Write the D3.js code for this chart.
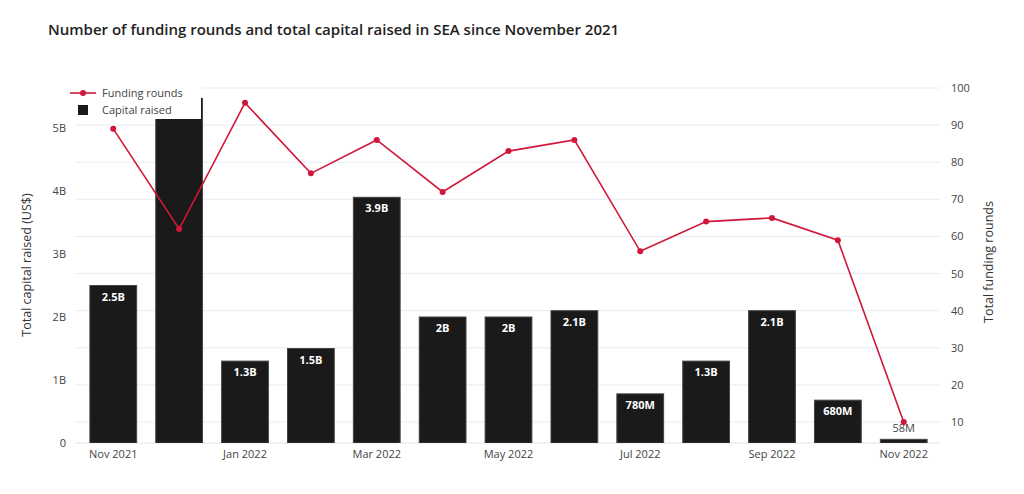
<!DOCTYPE html><html><head><meta charset="utf-8">
<script src="https://cdn.jsdelivr.net/npm/d3@7"></script>
<style>body{margin:0;background:#fff;font-family:"Open Sans",sans-serif}</style></head><body>
<svg id="c" width="1024" height="494"></svg>
<script>
const months=["Nov 2021","Dec 2021","Jan 2022","Feb 2022","Mar 2022","Apr 2022","May 2022","Jun 2022","Jul 2022","Aug 2022","Sep 2022","Oct 2022","Nov 2022"];
const capital=[2.5e9,6.5e9,1.3e9,1.5e9,3.9e9,2.0e9,2.0e9,2.1e9,7.8e8,1.3e9,2.1e9,6.8e8,5.8e7];
const capLabels=["2.5B","","1.3B","1.5B","3.9B","2B","2B","2.1B","780M","1.3B","2.1B","680M","58M"];
const rounds=[89,62,96,77,86,72,83,86,56,64,65,59,10];
const tickLabels=["Nov 2021","","Jan 2022","","Mar 2022","","May 2022","","Jul 2022","","Sep 2022","","Nov 2022"];
const svg=d3.select("#c");
const L=75,R=940,T=88,B=443;
const x=d3.scaleBand().domain(months).range([80,937]).paddingInner(0.29).paddingOuter(0.15);
const yL=d3.scaleLinear().domain([0,5.635e9]).range([B,T]);
const yR=d3.scaleLinear().domain([4.34,100]).range([B,T]);
svg.append("text").attr("x",48).attr("y",35).attr("font-size",15).attr("font-weight",600).attr("fill","#222").text("Number of funding rounds and total capital raised in SEA since November 2021");
// grid
svg.append("g").selectAll("line").data(d3.range(10,101,10)).join("line").attr("x1",L).attr("x2",R).attr("y1",d=>yR(d)).attr("y2",d=>yR(d)).attr("stroke","#e6ecf5");
svg.append("line").attr("x1",L).attr("x2",R).attr("y1",B).attr("y2",B).attr("stroke","#dde4ee");
svg.append("defs").append("clipPath").attr("id","cp").append("rect").attr("x",L).attr("y",98).attr("width",R-L).attr("height",B-98);
const g=svg.append("g").attr("clip-path","url(#cp)");
g.selectAll("rect").data(capital).join("rect").attr("x",(d,i)=>x(months[i])).attr("width",x.bandwidth()).attr("y",d=>yL(d)).attr("height",d=>B-yL(d)).attr("fill","#1a1a1a").attr("stroke","#444").attr("stroke-width",1);
svg.append("g").selectAll("text").data(capital).join("text").attr("x",(d,i)=>x(months[i])+x.bandwidth()/2)
 .attr("y",(d,i)=>i===12?yL(d)-7:yL(d)+15).attr("text-anchor","middle").attr("font-size",11).attr("font-weight",(d,i)=>i===12?400:700)
 .attr("fill",(d,i)=>i===12?"#444":"#fff").text((d,i)=>capLabels[i]);
// line
const cx=i=>x(months[i])+x.bandwidth()/2;
svg.append("path").datum(rounds).attr("d",d3.line().x((d,i)=>cx(i)).y(d=>yR(d))).attr("fill","none").attr("stroke","#d0173a").attr("stroke-width",1.6);
svg.append("g").selectAll("circle").data(rounds).join("circle").attr("cx",(d,i)=>cx(i)).attr("cy",d=>yR(d)).attr("r",3).attr("fill","#d0173a");
// axes
const ax=svg.append("g").attr("font-size",11).attr("fill","#444");
[0,1e9,2e9,3e9,4e9,5e9].forEach(v=>ax.append("text").attr("x",66).attr("y",yL(v)+4).attr("text-anchor","end").text(v===0?"0":(v/1e9)+"B"));
d3.range(10,101,10).forEach(v=>ax.append("text").attr("x",951).attr("y",yR(v)+4).text(v));
months.forEach((m,i)=>ax.append("text").attr("x",cx(i)).attr("y",458).attr("text-anchor","middle").text(tickLabels[i]));
svg.append("text").attr("transform","translate(31,265) rotate(-90)").attr("text-anchor","middle").attr("font-size",12.5).attr("fill","#333").text("Total capital raised (US$)");
svg.append("text").attr("transform","translate(993,262) rotate(-90)").attr("text-anchor","middle").attr("font-size",12.5).attr("fill","#333").text("Total funding rounds");
// legend
const lg=svg.append("g");
lg.append("rect").attr("x",66).attr("y",84).attr("width",135).attr("height",35).attr("fill","#fff");
lg.append("line").attr("x1",70).attr("x2",96).attr("y1",93).attr("y2",93).attr("stroke","#d0173a").attr("stroke-width",1.6);
lg.append("circle").attr("cx",83).attr("cy",93).attr("r",3).attr("fill","#d0173a");
lg.append("text").attr("x",102).attr("y",97).attr("font-size",11).attr("fill","#444").text("Funding rounds");
lg.append("rect").attr("x",78).attr("y",105).attr("width",10).attr("height",10).attr("fill","#1a1a1a");
lg.append("text").attr("x",102).attr("y",114).attr("font-size",11).attr("fill","#444").text("Capital raised");
</script></body></html>
